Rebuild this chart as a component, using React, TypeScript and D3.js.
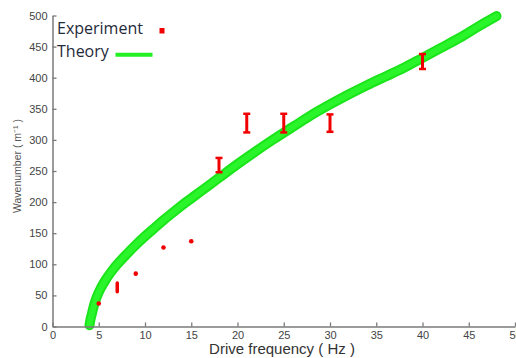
import React, { useEffect, useRef } from 'react';
import * as d3 from 'd3';

// theory curve (Hz, m^-1)
const theoryFreq = [4.0, 4.1, 4.3, 4.5, 4.8, 5.2, 5.7, 6.3, 7, 8, 9, 10, 11, 12, 13, 14, 15, 16, 17, 18, 20, 22, 24, 26, 28, 30, 32, 34, 36, 38, 40, 42, 44, 46, 48];
const theoryK = [2, 11, 23, 35, 48, 61, 74, 87, 100, 116, 131, 145, 158, 171, 183, 195, 206, 217, 228, 239, 261, 282, 302, 321, 340, 357, 373, 388, 402, 416, 432, 448, 464, 482, 499];

// measured points with error range
const expFreq = [5, 7, 9, 12, 15, 18, 21, 25, 30, 40];
const expK = [37, 63, 85, 127, 137, 260, 327, 327, 327, 426];
const expLo = [37, 56, 85, 127, 137, 248, 312, 312, 313, 414];
const expHi = [37, 70, 85, 127, 137, 271, 342, 342, 341, 438];

const xTicks = [0, 5, 10, 15, 20, 25, 30, 35, 40, 45, 50];
const yTicks = [0, 50, 100, 150, 200, 250, 300, 350, 400, 450, 500];

const width = 516;
const height = 358;

export default function App() {
  const svgRef = useRef<SVGSVGElement>(null);

  useEffect(() => {
    if (!svgRef.current) return;
    const svg = d3.select(svgRef.current);
    svg.selectAll('*').remove();

    const x = d3.scaleLinear().domain([0, 50]).range([52.5, 515]);
    const y = d3.scaleLinear().domain([0, 500]).range([326.5, 15.5]);

    const axisColor = '#7a7a7a';
    const tickFont = '"Liberation Sans", Arial, sans-serif';

    // Theory curve (thick band of markers)
    const pts = theoryFreq.map((f, i) => [f, theoryK[i]] as [number, number]);
    const line = d3
      .line<[number, number]>()
      .x(d => x(d[0]))
      .y(d => y(d[1]))
      .curve(d3.curveCatmullRom);

    svg
      .append('path')
      .attr('d', line(pts))
      .attr('fill', 'none')
      .attr('stroke', '#1be41b')
      .attr('stroke-width', 10)
      .attr('stroke-linecap', 'round');
    svg
      .append('path')
      .attr('d', line(pts))
      .attr('fill', 'none')
      .attr('stroke', '#2af52a')
      .attr('stroke-width', 6)
      .attr('stroke-linecap', 'round');

    // Experiment
    const exp = svg.append('g');
    expFreq.forEach((f, i) => {
      const cx = x(f);
      const lo = expLo[i];
      const hi = expHi[i];
      if (hi - lo > 15) {
        exp
          .append('line')
          .attr('x1', cx).attr('x2', cx)
          .attr('y1', y(lo)).attr('y2', y(hi))
          .attr('stroke', '#f00000').attr('stroke-width', 3);
        [lo, hi].forEach(v => {
          exp
            .append('line')
            .attr('x1', cx - 3.5).attr('x2', cx + 3.5)
            .attr('y1', y(v)).attr('y2', y(v))
            .attr('stroke', '#f00000').attr('stroke-width', 2.5);
        });
      } else if (hi > lo) {
        exp
          .append('line')
          .attr('x1', cx).attr('x2', cx)
          .attr('y1', y(lo)).attr('y2', y(hi))
          .attr('stroke', '#f00000').attr('stroke-width', 3.5)
          .attr('stroke-linecap', 'round');
      } else {
        exp
          .append('circle')
          .attr('cx', cx).attr('cy', y(expK[i]))
          .attr('r', 2.3)
          .attr('fill', '#f00000');
      }
    });

    // X axis
    const gx = svg
      .append('g')
      .attr('transform', `translate(0, ${y(0)})`)
      .call(d3.axisBottom(x).tickValues(xTicks).tickSizeInner(-4).tickSizeOuter(0).tickPadding(4.5));
    gx.select('.domain').attr('stroke', axisColor).attr('stroke-width', 1.5);
    gx.selectAll('.tick line').attr('stroke', axisColor).attr('stroke-width', 1.3);
    gx.selectAll('text')
      .attr('fill', '#444')
      .attr('font-size', '11px')
      .attr('font-family', tickFont);

    // Y axis
    const gy = svg
      .append('g')
      .attr('transform', `translate(${x(0)}, 0)`)
      .call(d3.axisLeft(y).tickValues(yTicks).tickSizeInner(-4).tickSizeOuter(0).tickPadding(5));
    gy.select('.domain').attr('stroke', axisColor).attr('stroke-width', 1.5);
    gy.selectAll('.tick line').attr('stroke', axisColor).attr('stroke-width', 1.3);
    gy.selectAll('text')
      .attr('fill', '#444')
      .attr('font-size', '11px')
      .attr('font-family', tickFont);

    // Axis labels
    svg
      .append('text')
      .attr('x', 282)
      .attr('y', 354)
      .attr('text-anchor', 'middle')
      .attr('fill', '#333')
      .attr('font-size', '15px')
      .attr('font-family', tickFont)
      .text('Drive frequency ( Hz )');

    svg
      .append('text')
      .attr('transform', 'translate(21, 166) rotate(-90)')
      .attr('text-anchor', 'middle')
      .attr('fill', '#555')
      .attr('font-size', '10.5px')
      .attr('font-family', tickFont)
      .text('Wavenumber ( m⁻¹ )');

    // Legend
    const legendFont = '"Open Sans", "Noto Sans", sans-serif';
    svg
      .append('text')
      .attr('x', 57)
      .attr('y', 33.5)
      .attr('fill', '#1f2a3a')
      .attr('font-size', '16px')
      .attr('font-family', legendFont)
      .text('Experiment');
    svg
      .append('rect')
      .attr('x', 159.5)
      .attr('y', 28)
      .attr('width', 5)
      .attr('height', 5.5)
      .attr('fill', '#f00000');
    svg
      .append('text')
      .attr('x', 57)
      .attr('y', 56.5)
      .attr('fill', '#1f2a3a')
      .attr('font-size', '16px')
      .attr('font-family', legendFont)
      .text('Theory');
    svg
      .append('line')
      .attr('x1', 115.5)
      .attr('x2', 152.5)
      .attr('y1', 54.7)
      .attr('y2', 54.7)
      .attr('stroke', '#22f022')
      .attr('stroke-width', 4);
  }, []);

  return (
    <svg
      ref={svgRef}
      width={width}
      height={height}
      style={{ position: 'absolute', left: 0, top: 0, background: '#fff' }}
    ></svg>
  );
}
